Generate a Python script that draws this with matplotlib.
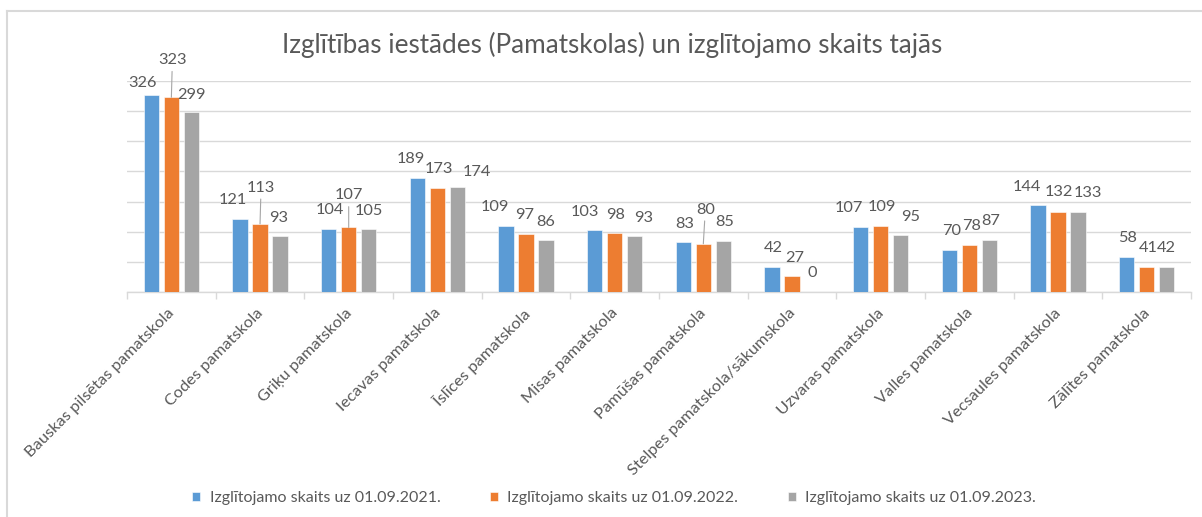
import matplotlib.pyplot as plt
import matplotlib.transforms as mtransforms
import numpy as np

plt.rcParams['font.family'] = ['Lato', 'DejaVu Sans']

schools = ['Bauskas pilsētas pamatskola', 'Codes pamatskola', 'Griķu pamatskola',
           'Iecavas pamatskola', 'Īslīces pamatskola', 'Misas pamatskola',
           'Pamūšas pamatskola', 'Stelpes pamatskola/sākumskola', 'Uzvaras pamatskola',
           'Valles pamatskola', 'Vecsaules pamatskola', 'Zālītes pamatskola']
y2021 = [326, 121, 104, 189, 109, 103, 83, 42, 107, 70, 144, 58]
y2022 = [323, 113, 107, 173, 97, 98, 80, 27, 109, 78, 132, 41]
y2023 = [299, 93, 105, 174, 86, 93, 85, 0, 95, 87, 133, 42]
series_names = ['Izglītojamo skaits uz 01.09.2021.',
                'Izglītojamo skaits uz 01.09.2022.',
                'Izglītojamo skaits uz 01.09.2023.']
colors = ['#5B9BD5', '#ED7D31', '#A5A5A5']

# label offsets (pixels, from bar top) as they were moved by hand in the original
dx_lab = [[-9, -7, 1, -7, -11, -10, 1, 1, -12, 2, -11, 1],
          [1, 1, 0, 2, -1, 1, 2, 3, 1, 2, 1, 2],
          [0, -1, 0, 20, 0, 9, 1, 0, 10, 1, 10, 0]]
dy_lab = [[12, 19, 19, 19, 19, 18, 18, 19, 19, 19, 18, 19],
          [37, 36, 32, 19, 19, 18, 34, 18, 19, 19, 20, 19],
          [17, 18, 18, 15, 18, 18, 19, 19, 18, 19, 19, 19]]
leaders = [(1, 0), (1, 1), (1, 2), (1, 6)]

text_col = '#595959'
grid_col = '#D9D9D9'

fig = plt.figure(figsize=(12.02, 5.17), dpi=100)
ax = fig.add_axes([0.1057, 0.4352, 0.8851, 0.4081])

x = np.arange(len(schools))
width = 0.175
step = 0.2256
data = [y2021, y2022, y2023]
for s, vals in enumerate(data):
    xs = x + (s - 1) * step
    ax.bar(xs, vals, width, color=colors[s], label=series_names[s],
           edgecolor='white', linewidth=0.4, zorder=3)
    for i, v in enumerate(vals):
        lead = (s, i) in leaders
        ax.annotate(str(v), xy=(xs[i], v),
                    xytext=(dx_lab[s][i], dy_lab[s][i]), textcoords='offset pixels',
                    ha='center', va='center', fontsize=11.8, color=text_col,
                    arrowprops=dict(arrowstyle='-', color='#A6A6A6', lw=0.8,
                                    shrinkA=1, shrinkB=0) if lead else None)

ax.set_xlim(-0.5, len(schools) - 0.5)
ax.set_ylim(0, 350)
ax.set_yticks(np.arange(0, 351, 50))
ax.yaxis.grid(True, color=grid_col, linewidth=1)
ax.set_axisbelow(True)
ax.tick_params(axis='y', length=0, labelleft=False)
for sp in ['top', 'right', 'left']:
    ax.spines[sp].set_visible(False)
ax.spines['bottom'].set_color(grid_col)
ax.spines['bottom'].set_linewidth(1)

ax.set_xticks(x)
ax.set_xticklabels(schools, rotation=45, ha='right', rotation_mode='anchor',
                   fontsize=11.8, color=text_col)
ax.tick_params(axis='x', which='major', length=0, pad=10)
shift = mtransforms.ScaledTranslation(-4 / 100, 0, fig.dpi_scale_trans)
for lab in ax.get_xticklabels():
    lab.set_transform(lab.get_transform() + shift)
ax.set_xticks(np.arange(-0.5, len(schools)), minor=True)
ax.tick_params(axis='x', which='minor', length=5, color=grid_col, width=1)

fig.text(0.5095, 1 - 45 / 517, 'Izglītības iestādes (Pamatskolas) un izglītojamo skaits tajās',
         ha='center', va='center', fontsize=18.8, color=text_col)

fig.legend(loc='center', bbox_to_anchor=(614 / 1202, 1 - 498 / 517), ncol=3,
           frameon=False, fontsize=11.5, labelcolor=text_col, handlelength=0.5,
           handleheight=0.5, handletextpad=0.6, columnspacing=3.1)

# chart area border
fig.add_artist(plt.Line2D([7 / 1202, 1], [1 - 11 / 517, 1 - 11 / 517], color=grid_col, lw=1.5))
fig.add_artist(plt.Line2D([7 / 1202, 7 / 1202], [0, 1 - 11 / 517], color=grid_col, lw=1.5))

fig.savefig('out.png', dpi=100)
